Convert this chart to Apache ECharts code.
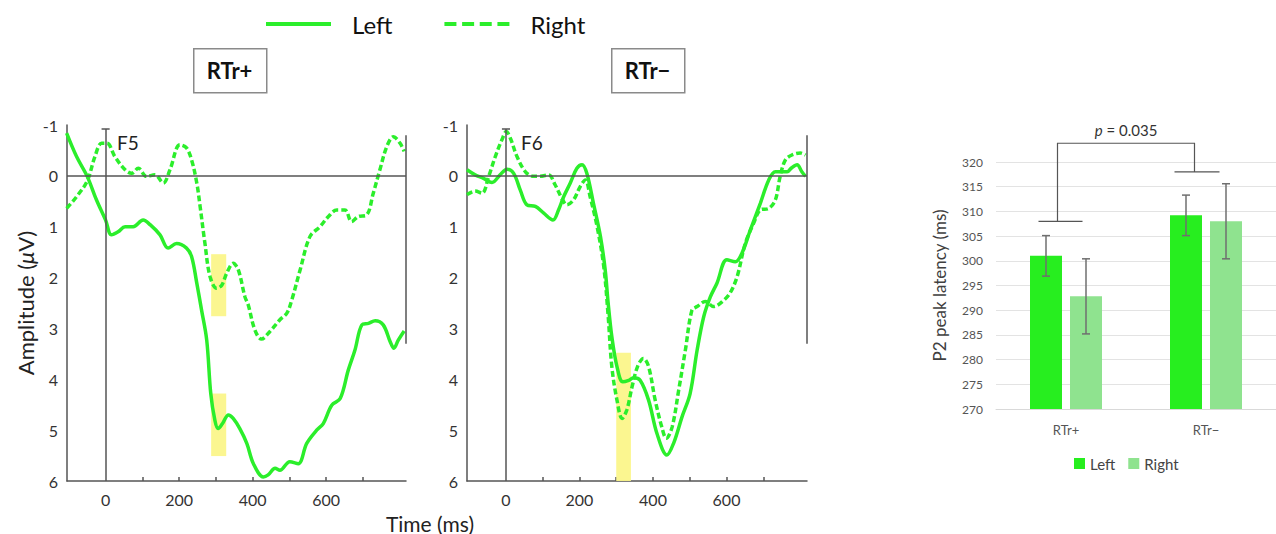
<!DOCTYPE html>
<html><head><meta charset="utf-8">
<script src="https://cdn.jsdelivr.net/npm/echarts@6/dist/echarts.min.js"></script>
<style>html,body{margin:0;padding:0;background:#fff}#c{width:1276px;height:534px}</style>
</head><body><div id="c"></div>
<script>
// ---------- ERP data (time in ms, amplitude in µV; positive plotted downward) ----------
const f5LeftTime = [-106,-79,-50,-25,0,16,34,53,75,102,121,148,170,193,220,234,248,261,275,286,297,306,318,334,347,365,384,402,429,442,461,474,501,524,547,574,592,615,638,660,678,697,715,733,755,774,784,796,812];
const f5LeftAmp  = [-0.84,-0.38,0.01,0.47,0.87,1.16,1.1,1.0,1.0,0.87,0.96,1.16,1.42,1.33,1.42,1.59,2.11,2.64,3.23,4.28,4.8,4.97,4.87,4.7,4.77,4.97,5.26,5.66,5.92,5.88,5.75,5.79,5.62,5.66,5.26,5.0,4.87,4.51,4.38,3.82,3.43,2.93,2.9,2.85,2.93,3.26,3.39,3.23,3.05];
const f5RightTime = [-106,-79,-50,-29,-11,4,25,53,71,89,111,134,157,175,202,220,234,248,257,270,284,302,316,329,347,361,379,388,406,424,447,474,493,506,529,556,583,606,629,651,669,687,710,728,746,765,783,801,812];
const f5RightAmp  = [0.64,0.41,0.1,-0.38,-0.64,-0.64,-0.38,-0.12,-0.05,-0.15,0.01,-0.02,0.14,-0.12,-0.61,-0.55,-0.31,0.14,0.6,1.32,1.98,2.21,2.15,1.92,1.72,1.85,2.38,2.54,3.03,3.21,3.06,2.83,2.7,2.45,1.85,1.19,1.0,0.8,0.67,0.67,0.9,0.8,0.77,0.34,-0.12,-0.58,-0.77,-0.64,-0.48];
const f6LeftTime = [-106,-84,-61,-38,-16,3,21,39,57,80,102,128,143,157,175,193,207,220,238,257,270,278,288,302,318,334,347,365,388,411,438,456,479,501,520,538,556,574,601,624,642,665,692,715,733,751,765,776,792,805,815];
const f6LeftAmp  = [-0.12,-0.02,0.05,0.13,-0.02,-0.13,-0.05,0.28,0.57,0.6,0.73,0.87,0.67,0.41,0.14,-0.15,-0.22,-0.05,0.54,1.19,1.85,2.5,3.16,3.75,4.05,4.02,3.97,4.02,4.41,5.07,5.49,5.26,4.74,4.28,3.43,2.77,2.38,2.11,1.65,1.69,1.52,1.06,0.54,0.08,-0.08,-0.08,-0.08,-0.15,-0.22,-0.08,0.01];
const f6RightTime = [-106,-84,-65,-47,-29,-11,1,12,30,53,75,93,116,134,152,166,184,202,216,229,248,266,278,288,302,316,329,343,358,374,388,406,424,436,452,470,488,506,520,542,565,592,610,629,651,674,692,715,733,746,760,778,801,815];
const f6RightAmp  = [0.37,0.3,0.34,0.01,-0.38,-0.71,-0.87,-0.74,-0.38,-0.08,0.01,0.01,-0.02,0.18,0.44,0.57,0.47,0.21,0.08,0.41,1.0,1.78,2.75,3.75,4.41,4.77,4.6,4.15,3.75,3.59,3.75,4.41,4.94,5.16,4.94,4.21,3.43,2.64,2.57,2.47,2.57,2.45,2.3,1.98,1.33,0.93,0.67,0.64,0.47,0.01,-0.31,-0.41,-0.45,-0.41];
// highlighted P2 windows [t1, a1, t2, a2]
const f5Windows = [[287,1.54,328,2.76],[287,4.28,328,5.51]];
const f6Windows = [[300,3.48,340,6]];
const timeLabelValues = [0,200,400,600];
const timeTickValues = [100,200,300,400,500,600,700];
const seriesNames = ['Left','Right'];
const panelTitles = ['RTr+','RTr\u2212'];
const electrodes = ['F5','F6'];

// ---------- bar chart data ----------
const barCategories = ['RTr+','RTr\u2212'];
const leftLatency  = [301, 309.2];
const rightLatency = [292.8, 308];
const leftErr  = [4.1, 4.1];
const rightErr = [7.6, 7.6];
const bracketCaps = [308, 318];
const bracketTop = 323.8;
const pLabel = '{i|p} = 0.035';

const FONT = "Lato, 'Open Sans', sans-serif";
const GREEN = '#2BEE2B';
const LEFT_BAR = '#27EE1F';
const RIGHT_BAR = '#8FE38F';
const AX = '#555';
const SOLID_ICON = 'path://M0,0h65v4h-65z';
const DASH_ICON = 'path://M0,0h12v4h-12zM17.7,0h12v4h-12zM35.3,0h12v4h-12zM53,0h12v4h-12z';

function pairs(t, v){ return t.map((x,i)=>[x, v[i]]); }
function areas(w){ return w.map(r=>[{coord:[r[0],r[1]]},{coord:[r[2],r[3]]}]); }

const chart = echarts.init(document.getElementById('c'), null, {renderer:'svg'});

function erpX(idx, min, max){
  return {gridIndex: idx, type:'value', min:min, max:max,
    axisLine:{show:true, onZero:false, lineStyle:{color:AX, width:1.5}},
    axisTick:{show:true, inside:true, length:4, customValues: timeTickValues, lineStyle:{color:AX, width:1.5}},
    axisLabel:{customValues: timeLabelValues, fontSize:16, color:'#333', margin:10, fontFamily:FONT},
    splitLine:{show:false}};
}
function erpY(idx, withName){
  const y = {gridIndex: idx, type:'value', inverse:true, min:-1, max:6, interval:1,
    axisLine:{show:true, onZero:false, lineStyle:{color:AX, width:1.5}},
    axisTick:{show:false},
    axisLabel:{fontSize:16, color:'#333', margin:9, fontFamily:FONT},
    splitLine:{show:false}};
  if (withName){
    y.name = 'Amplitude ({i|\u03bc}V)';
    y.nameLocation = 'middle';
    y.nameGap = 31;
    y.nameTextStyle = {fontSize:22, color:'#222', fontFamily:FONT, rich:{i:{fontStyle:'italic', fontSize:22, fontFamily:FONT, color:'#222'}}};
  }
  return y;
}
function refLines(xmin, xmax){
  return {silent:true, symbol:['none','none'], label:{show:false},
    lineStyle:{color:AX, width:1.5, type:'solid'}, emphasis:{disabled:true},
    data:[
      [{coord:[xmin,0]},{coord:[xmax,0]}],
      [{coord:[0,-0.92]},{coord:[0,6]}],
      [{coord:[-11,-0.92]},{coord:[11,-0.92]}],
      [{coord:[xmax-2,-0.8]},{coord:[xmax-2,3.3]}]
    ]};
}
function lineSeries(name, idx, data, dashed, extra){
  return Object.assign({
    name:name, type:'line', xAxisIndex:idx, yAxisIndex:idx, data:data,
    showSymbol:false, symbol:'none', smooth:0.35, clip:true, z:3,
    itemStyle:{color:GREEN},
    lineStyle:{color:GREEN, width:3.5, type: dashed ? [6,3] : 'solid'}
  }, extra||{});
}

const option = {
  animation:false,
  backgroundColor:'#fff',
  textStyle:{fontFamily:FONT},
  grid:[
    {left:67, top:125, width:339, height:356},
    {left:467, top:125, width:340, height:356},
    {left:996, top:162, width:282, height:247}
  ],
  xAxis:[
    erpX(0, -105, 817),
    erpX(1, -106, 819),
    {gridIndex:2, type:'category', data:barCategories,
      axisLine:{show:true, lineStyle:{color:'#d9d9d9'}}, axisTick:{show:false},
      axisLabel:{fontSize:13, color:'#555', margin:14, fontFamily:FONT}}
  ],
  yAxis:[
    erpY(0, true),
    erpY(1, false),
    {gridIndex:2, type:'value', min:270, max:320, interval:5,
      axisLine:{show:false}, axisTick:{show:false},
      axisLabel:{fontSize:12, color:'#555', margin:13, fontFamily:FONT},
      splitLine:{lineStyle:{color:'#e3e3e3', width:1}},
      name:'P2 peak latency (ms)', nameLocation:'middle', nameGap:48,
      nameTextStyle:{fontSize:17, color:'#404040', fontFamily:FONT}}
  ],
  legend:[
    {data:[{name:seriesNames[0], icon:SOLID_ICON, itemStyle:{color:GREEN, borderWidth:0}},
           {name:seriesNames[1], icon:DASH_ICON, itemStyle:{color:GREEN, borderWidth:0}}],
      left:266, top:12, padding:0, itemWidth:65, itemHeight:4.5, itemGap:52,
      textStyle:{fontSize:24, color:'#111', fontFamily:FONT, padding:[0,0,0,16]}},
    {data:[{name:seriesNames[0], icon:'rect', itemStyle:{color:LEFT_BAR, borderWidth:0}},
           {name:seriesNames[1], icon:'rect', itemStyle:{color:RIGHT_BAR, borderWidth:0}}],
      left:1074, top:456, padding:0, itemWidth:11, itemHeight:11, itemGap:13,
      textStyle:{fontSize:15, color:'#444', fontFamily:FONT}}
  ],
  series:[
    lineSeries('Left', 0, pairs(f5LeftTime, f5LeftAmp), false, {
      markLine: refLines(-105, 817),
      markArea:{silent:true, itemStyle:{color:'#FBF58A', opacity:0.95}, data:areas(f5Windows)}
    }),
    lineSeries('Right', 0, pairs(f5RightTime, f5RightAmp), true),
    lineSeries('Left', 1, pairs(f6LeftTime, f6LeftAmp), false, {
      markLine: refLines(-106, 819),
      markArea:{silent:true, itemStyle:{color:'#FBF58A', opacity:0.95}, data:areas(f6Windows)}
    }),
    lineSeries('Right', 1, pairs(f6RightTime, f6RightAmp), true),
    {name:'Left', type:'bar', xAxisIndex:2, yAxisIndex:2, data:leftLatency,
      barWidth:32, barGap:'25%', itemStyle:{color:LEFT_BAR}},
    {name:'Right', type:'bar', xAxisIndex:2, yAxisIndex:2, data:rightLatency,
      barWidth:32, barGap:'25%', itemStyle:{color:RIGHT_BAR}},
    {type:'custom', xAxisIndex:2, yAxisIndex:2, z:5, silent:true,
      data: barCategories.map((c,i)=>[i, leftLatency[i], leftErr[i], -1])
            .concat(barCategories.map((c,i)=>[i, rightLatency[i], rightErr[i], 1])),
      renderItem:function(params, api){
        const i = api.value(0), v = api.value(1), e = api.value(2), s = api.value(3);
        const t = api.coord([i, v+e]), b = api.coord([i, v-e]);
        const x = t[0] + s*20;
        const st = {stroke:'#6f6f6f', lineWidth:1.5};
        return {type:'group', children:[
          {type:'line', shape:{x1:x, y1:t[1], x2:x, y2:b[1]}, style:st},
          {type:'line', shape:{x1:x-4, y1:t[1], x2:x+4, y2:t[1]}, style:st},
          {type:'line', shape:{x1:x-4, y1:b[1], x2:x+4, y2:b[1]}, style:st}
        ]};
      }},
    {type:'custom', xAxisIndex:2, yAxisIndex:2, z:5, silent:true,
      data:[[0, 1]],
      renderItem:function(params, api){
        const a = api.coord([api.value(0), bracketCaps[0]]);
        const b = api.coord([api.value(1), bracketCaps[1]]);
        const top = api.coord([0, bracketTop])[1];
        const x1 = a[0]-8.5, x2 = b[0]-11.5;
        const st = {stroke:'#555', lineWidth:1.2, fill:null};
        return {type:'group', children:[
          {type:'polyline', shape:{points:[[x1,a[1]],[x1,top],[x2,top],[x2,b[1]]]}, style:st},
          {type:'line', shape:{x1:a[0]-27.5, y1:a[1], x2:a[0]+16.5, y2:a[1]}, style:st},
          {type:'line', shape:{x1:b[0]-31.5, y1:b[1], x2:b[0]+13.5, y2:b[1]}, style:st},
          {type:'text', x:(x1+x2)/2, y:top-13, style:{text:pLabel, fill:'#333', fontSize:15, fontFamily:FONT,
            align:'center', verticalAlign:'middle',
            rich:{i:{fontStyle:'italic', fontSize:15, fontFamily:FONT, fill:'#333'}}}}
        ]};
      }}
  ],
  graphic:[
    {type:'rect', left:193, top:48, shape:{width:73, height:44}, style:{fill:'#fff', stroke:'#8a8a8a', lineWidth:1.5}},
    {type:'text', x:229.5, y:70, style:{text:panelTitles[0], fontSize:22, fontWeight:'bold', fontFamily:FONT, fill:'#111', align:'center', verticalAlign:'middle'}},
    {type:'rect', left:611, top:48, shape:{width:73, height:44}, style:{fill:'#fff', stroke:'#8a8a8a', lineWidth:1.5}},
    {type:'text', x:647.5, y:70, style:{text:panelTitles[1], fontSize:22, fontWeight:'bold', fontFamily:FONT, fill:'#111', align:'center', verticalAlign:'middle'}},
    {type:'text', x:117, y:142, style:{text:electrodes[0], fontSize:19, fontFamily:FONT, fill:'#222', align:'left', verticalAlign:'middle'}},
    {type:'text', x:521, y:142, style:{text:electrodes[1], fontSize:19, fontFamily:FONT, fill:'#222', align:'left', verticalAlign:'middle'}},
    {type:'text', x:430, y:523, style:{text:'Time (ms)', fontSize:21, fontFamily:FONT, fill:'#222', align:'center', verticalAlign:'middle'}}
  ]
};
chart.setOption(option);
</script>
</body></html>
